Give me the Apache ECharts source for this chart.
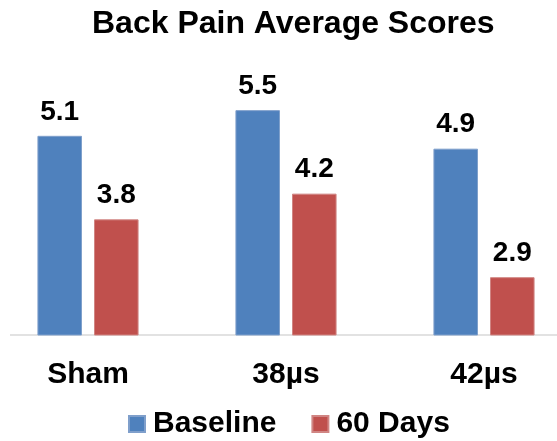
<!DOCTYPE html>
<html>
<head>
<meta charset="utf-8">
<script src="https://cdn.jsdelivr.net/npm/echarts@6/dist/echarts.min.js"></script>
<style>html,body{margin:0;padding:0;background:#fff;}#c{width:557px;height:441px;}</style>
</head>
<body>
<div id="c"></div>
<script>
var categories = ['Sham', '38\u00b5s', '42\u00b5s'];
var baseline = [5.1, 5.5, 4.9];
var days60 = [3.8, 4.2, 2.9];
var seriesNames = ['Baseline', '60 Days'];
var titleText = 'Back Pain Average Scores';

var FONT = '"Liberation Sans", Arial, sans-serif';
var chart = echarts.init(document.getElementById('c'), null, {renderer: 'canvas'});
var labelOpt = {
  show: true, position: 'top', distance: 10,
  fontFamily: FONT, fontWeight: 'bold', fontSize: 28, color: '#000',
  formatter: function (p) { return p.value.toFixed(1); }
};
chart.setOption({
  animation: false,
  backgroundColor: '#fff',
  title: {
    text: titleText, left: 92, top: 8, padding: 0,
    textStyle: {fontFamily: FONT, fontWeight: 'bold', fontSize: 32, color: '#000'}
  },
  legend: {
    data: seriesNames, left: 128, top: 409, icon: 'rect', padding: 0,
    itemWidth: 16, itemHeight: 16, itemGap: 35,
    textStyle: {fontFamily: FONT, fontWeight: 'bold', fontSize: 30, color: '#000', padding: [0, 0, 0, 3]}
  },
  grid: {left: -11, top: 78, width: 594, height: 257, containLabel: false, outerBoundsMode: 'none'},
  xAxis: {
    type: 'category', data: categories,
    axisLine: {show: false}, axisTick: {show: false},
    axisLabel: {margin: 25, fontFamily: FONT, fontWeight: 'bold', fontSize: 30, color: '#000'}
  },
  yAxis: {type: 'value', min: 2, max: 6, show: false, splitLine: {show: false}},
  graphic: [{
    type: 'line', shape: {x1: 10, y1: 335, x2: 557, y2: 335},
    style: {stroke: '#d9d9d9', lineWidth: 1.5}, z: 0
  }],
  series: [
    {name: seriesNames[0], type: 'bar', data: baseline, barWidth: '22.5%', barGap: '27%',
     itemStyle: {color: '#4F81BD', borderColor: '#7F9FCB', borderWidth: 1}, label: labelOpt},
    {name: seriesNames[1], type: 'bar', data: days60, barWidth: '22.5%', barGap: '27%',
     itemStyle: {color: '#C0504D', borderColor: '#D08583', borderWidth: 1}, label: labelOpt}
  ]
});
</script>
</body>
</html>
